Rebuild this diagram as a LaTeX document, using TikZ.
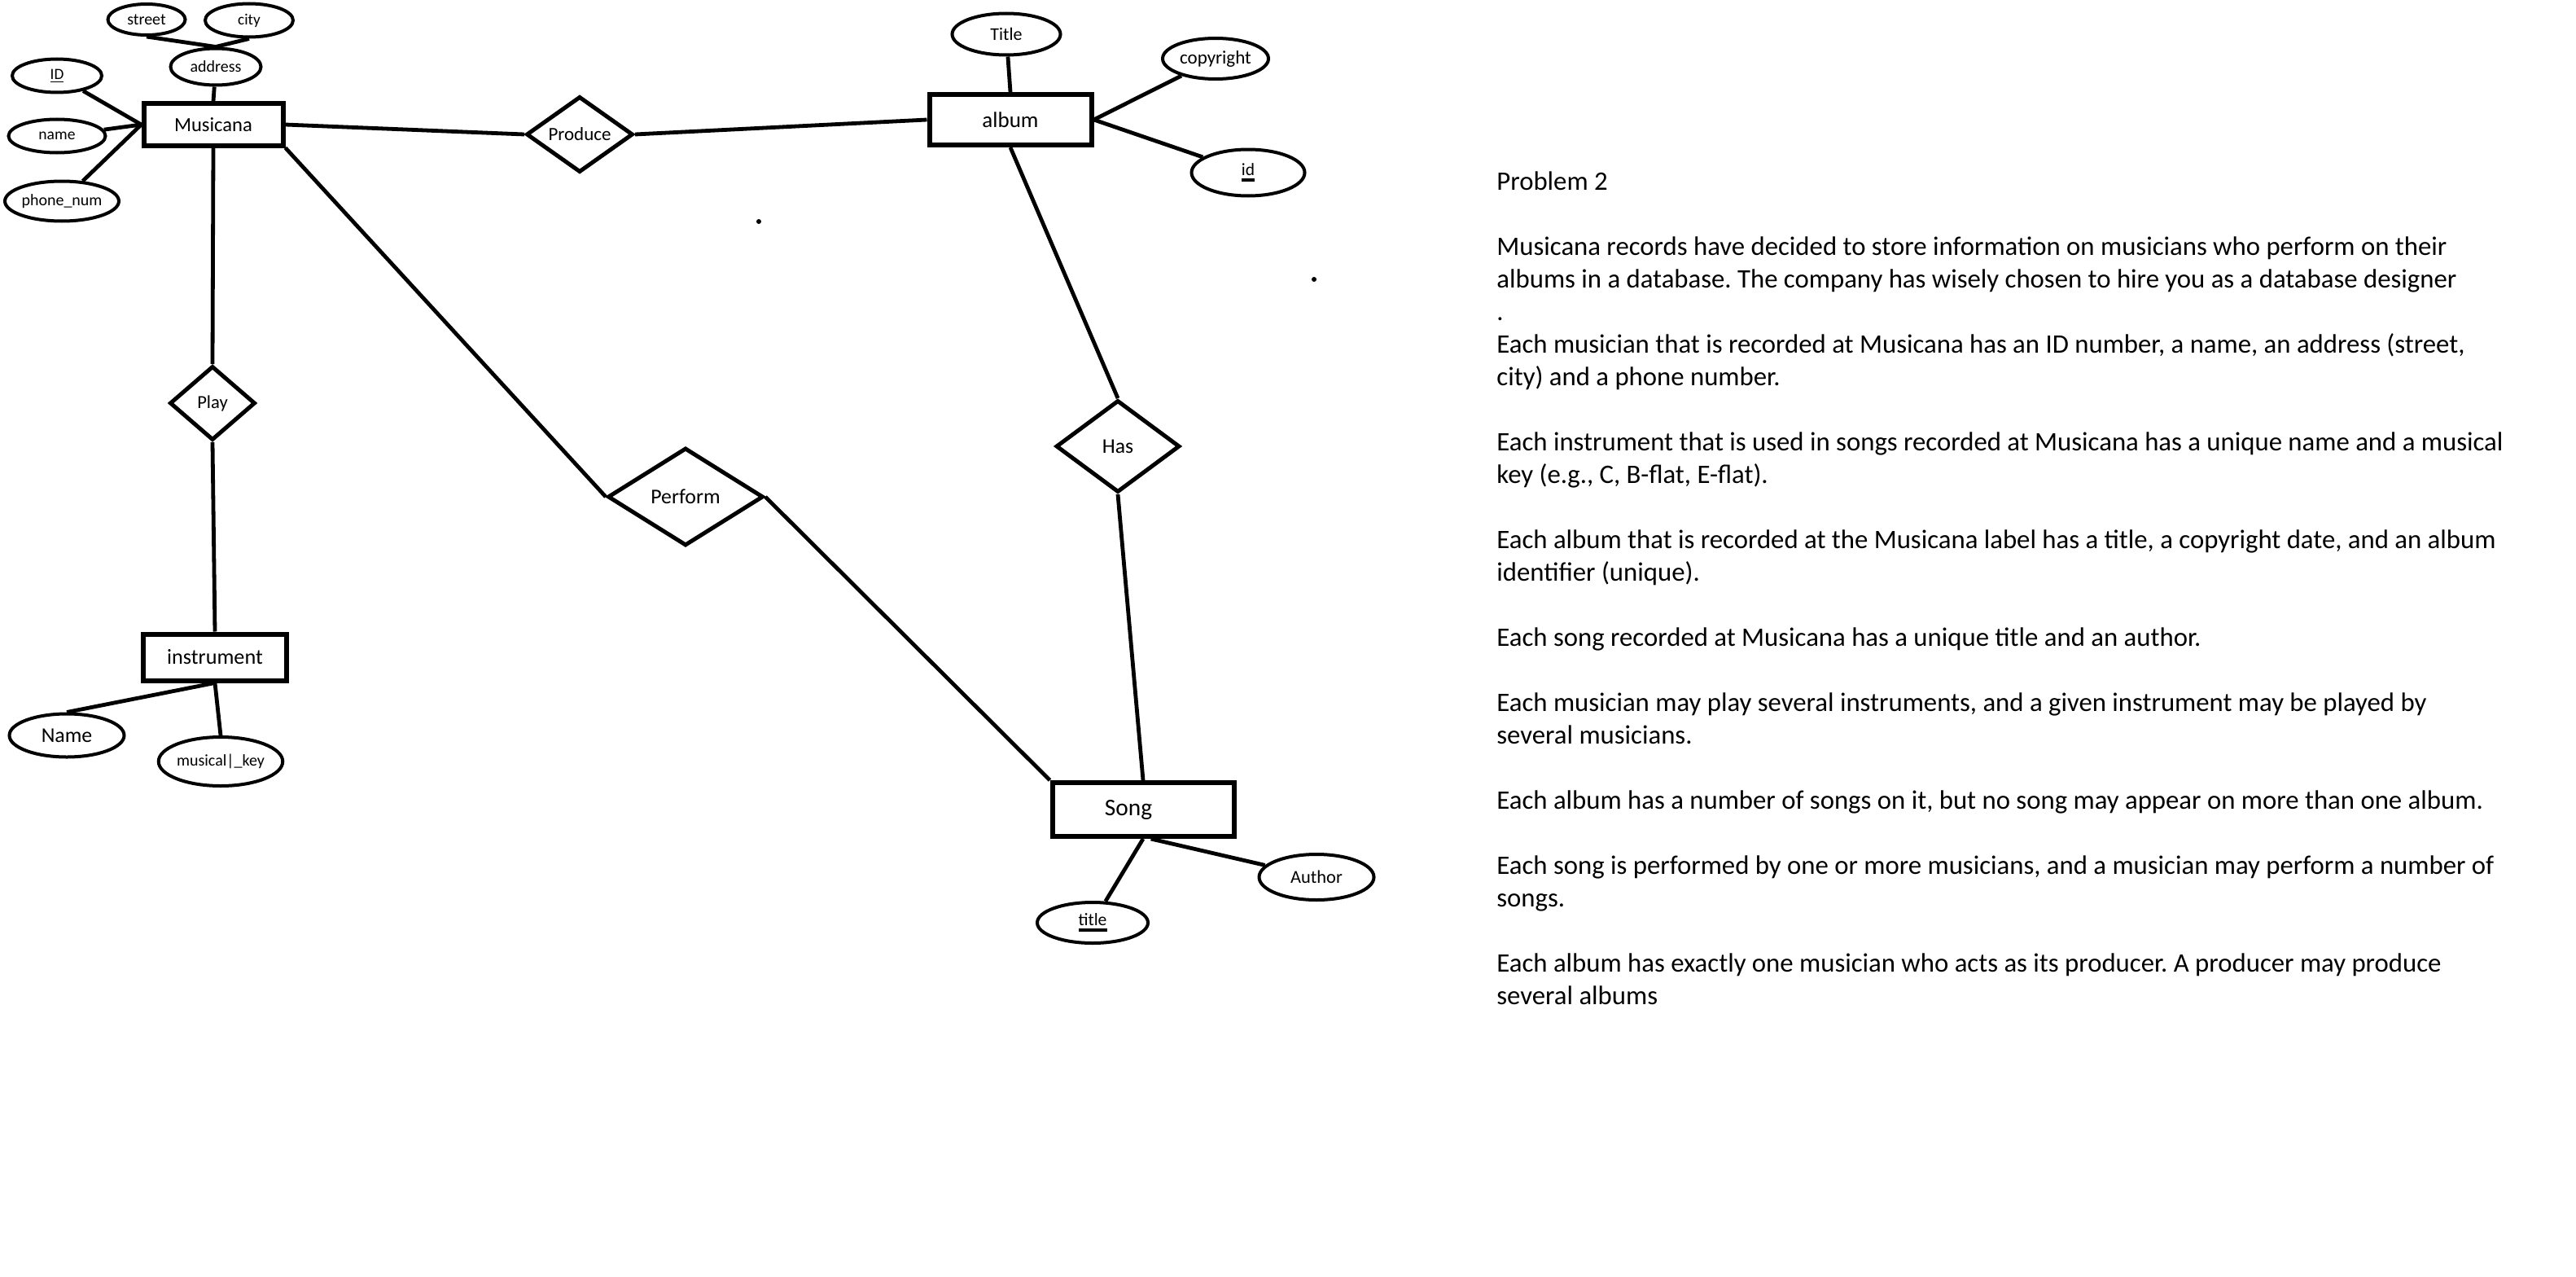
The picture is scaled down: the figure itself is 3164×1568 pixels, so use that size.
\documentclass[tikz,border=0pt]{standalone}
\usepackage{fontspec}
\setmainfont{Carlito}
\usetikzlibrary{shapes.geometric}
\newcommand\fsz[1]{\fontsize{#1}{#1}\selectfont}
\newcommand\tul[1]{\leavevmode\vtop{\hbox{#1}\kern1.5pt\hrule height 2pt}}
\frenchspacing
\begin{document}
\begin{tikzpicture}[x=0.5pt,y=-0.5pt,
  attr/.style={ellipse, draw, line width=2pt, inner sep=0pt},
  ent/.style={rectangle, draw, line width=3pt, inner sep=0pt},
  rel/.style={diamond, draw, line width=2.5pt, inner sep=0pt},
  conn/.style={line width=2.4pt},
  para/.style={anchor=base west, inner sep=0pt, font=\fsz{16.38}\frenchspacing}]
\useasboundingbox (0,0) rectangle (3164,1568);

% Musicana and its attributes
\node[ent, minimum width=85.5pt, minimum height=25.5pt, font=\fsz{12.3}] (mus) at (262,153) {Musicana};
\node[attr, minimum width=47.5pt, minimum height=19pt, font=\fsz{10}] (street) at (180,24) {street};
\node[attr, minimum width=54pt, minimum height=20.5pt, font=\fsz{9.6}] (city) at (306,25) {city};
\node[attr, minimum width=55.5pt, minimum height=22.5pt, font=\fsz{10}] (addr) at (265,82) {address};
\node[attr, minimum width=55pt, minimum height=20.5pt, font=\fsz{9.6}] (idat) at (70,93) {\underline{ID}};
\node[attr, minimum width=59.5pt, minimum height=20.5pt, font=\fsz{9.8}] (nameat) at (70,167) {name};
\node[attr, minimum width=65.5pt, minimum height=24.5pt, font=\fsz{10}] (phone) at (76,247) {phone\_num};

% album and its attributes
\node[ent, minimum width=99.5pt, minimum height=31pt, font=\fsz{13.5}] (album) at (1241,147) {album};
\node[attr, minimum width=66.5pt, minimum height=25.5pt, font=\fsz{11}] (atitle) at (1236,42) {Title};
\node[attr, minimum width=65pt, minimum height=25pt, font=\fsz{11.5}] (copy) at (1493,72) {copyright};
\node[attr, minimum width=69.5pt, minimum height=28.5pt, font=\fsz{10.7}] (idal) at (1533,212) {\tul{id}};

% instrument and its attributes
\node[ent, minimum width=88pt, minimum height=28.5pt, font=\fsz{13.1}] (inst) at (264,807) {instrument};
\node[attr, minimum width=70.5pt, minimum height=26.5pt, font=\fsz{12.9}] (nm) at (82,903) {Name};
\node[attr, minimum width=72pt, minimum height=30pt, font=\fsz{10}] (mkey) at (271,935) {musical|\_key};

% Song and its attributes
\node[ent, minimum width=111.5pt, minimum height=33pt, font=\fsz{14.7}] (song) at (1404,994) {\hspace*{-18pt}Song};
\node[attr, minimum width=68pt, minimum height=25pt, font=\fsz{10.8}] (stitle) at (1342,1133) {\tul{title}};
\node[attr, minimum width=70.5pt, minimum height=28pt, font=\fsz{11.2}] (author) at (1617,1077) {Author};

% relationships
\node[rel, minimum width=65.5pt, minimum height=44pt, font=\fsz{11.5}] (prod) at (712,165) {Produce};
\node[rel, minimum width=52.5pt, minimum height=45.5pt, font=\fsz{11.3}] (play) at (261,495) {Play};
\node[rel, minimum width=95.5pt, minimum height=60pt, font=\fsz{12.9}] (perf) at (842,610) {Perform};
\node[rel, minimum width=76pt, minimum height=56.5pt, font=\fsz{12.8}] (has) at (1373,548) {Has};

% connectors
\draw[conn] (street.south) -- (addr.north);
\draw[conn] (city.south) -- (addr.north);
\draw[conn] (addr) -- (mus.north);
\draw[conn] (idat) -- (mus.west);
\draw[conn] (nameat) -- (mus.west);
\draw[conn] (phone) -- (mus.west);
\draw[conn] (mus.east) -- (prod.west);
\draw[conn] (prod.east) -- (album.west);
\draw[conn] (mus.south) -- (play.north);
\draw[conn] (play.south) -- (inst.north);
\draw[conn] (mus.south east) -- (perf.west);
\draw[conn] (perf.east) -- (song.north west);
\draw[conn] (album.south) -- (has.north);
\draw[conn] (has.south) -- (song.north);
\draw[conn] (album.north) -- (atitle);
\draw[conn] (album.east) -- (copy);
\draw[conn] (album.east) -- (idal);
\draw[conn] (inst.south) -- (nm.north);
\draw[conn] (inst.south) -- (mkey.north);
\draw[conn] (song.south) -- (stitle);
\draw[conn] (song.-75) -- (author);

% stray dots
\fill (932,272) circle (1.5pt);
\fill (1614,343) circle (1.5pt);

% problem text
\foreach \k/\t in {
 0/{Problem 2},
 2/{Musicana records have decided to store information on musicians who perform on their},
 3/{albums in a database. The company has wisely chosen to hire you as a database designer},
 4/{.},
 5/{Each musician that is recorded at Musicana has an ID number, a name, an address (street,},
 6/{city) and a phone number.},
 8/{Each instrument that is used in songs recorded at Musicana has a unique name and a musical},
 9/{key (e.g., C, B-flat, E-flat).},
 11/{Each album that is recorded at the Musicana label has a title, a copyright date, and an album},
 12/{identifier (unique).},
 14/{Each song recorded at Musicana has a unique title and an author.},
 16/{Each musician may play several instruments, and a given instrument may be played by},
 17/{several musicians.},
 19/{Each album has a number of songs on it, but no song may appear on more than one album.},
 21/{Each song is performed by one or more musicians, and a musician may perform a number of},
 22/{songs.},
 24/{Each album has exactly one musician who acts as its producer. A producer may produce},
 25/{several albums}}
  \node[para] (t\k) at (1838,{233+40*\k}) {\t};
\end{tikzpicture}
\end{document}
